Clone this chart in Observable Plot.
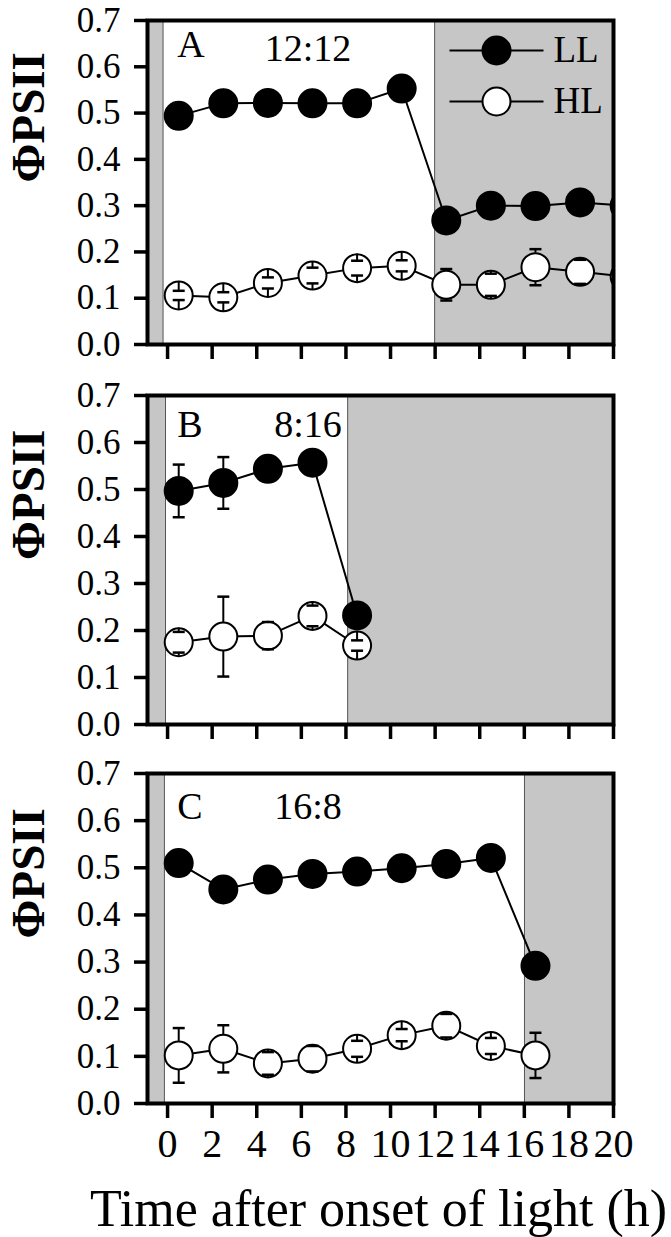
<!DOCTYPE html>
<html>
<head>
<meta charset="utf-8">
<script src="https://cdn.jsdelivr.net/npm/d3@7"></script>
<script src="https://cdn.jsdelivr.net/npm/@observablehq/plot@0.6"></script>
<style>
  html, body { margin: 0; padding: 0; background: white; }
  #chart svg { display: block; }
</style>
</head>
<body>
<div id="chart"></div>
<script>
// ---------- data ----------
const xTicks = [0, 2, 4, 6, 8, 10, 12, 14, 16, 18, 20];
const yTicks = [0, 0.1, 0.2, 0.3, 0.4, 0.5, 0.6, 0.7];
const xDomain = [-0.9, 20];
const yDomain = [0, 0.7];
const seriesNames = ["LL", "HL"];
const panelLetters = ["A", "B", "C"];
const photoperiods = ["12:12", "8:16", "16:8"];
const lightOnEdge = [-0.18, -0.07, -0.12];   // end of the dark strip before onset of light
const lightOffTime = [12, 8.1, 16.03];        // start of dark period

// Panel A (12:12)
const timeA = [0.5, 2.5, 4.5, 6.5, 8.5, 10.5, 12.5, 14.5, 16.5, 18.5, 20.5];
const llA = [0.494, 0.521, 0.522, 0.521, 0.521, 0.553, 0.268, 0.300, 0.299, 0.307, 0.300];
const llAErr = [0.008, 0.008, 0.008, 0.008, 0.008, 0.008, 0.008, 0.008, 0.008, 0.008, 0.008];
const hlA = [0.106, 0.102, 0.133, 0.149, 0.165, 0.170, 0.129, 0.129, 0.167, 0.157, 0.147];
const hlAErr = [0.010, 0.011, 0.012, 0.017, 0.016, 0.012, 0.034, 0.024, 0.039, 0.026, 0.020];

// Panel B (8:16)
const timeB = [0.5, 2.5, 4.5, 6.5, 8.5];
const llB = [0.497, 0.514, 0.544, 0.557, 0.232];
const llBErr = [0.056, 0.055, 0.008, 0.008, 0.008];
const hlB = [0.175, 0.187, 0.189, 0.231, 0.168];
const hlBErr = [0.022, 0.085, 0.029, 0.022, 0.011];

// Panel C (16:8)
const timeC = [0.5, 2.5, 4.5, 6.5, 8.5, 10.5, 12.5, 14.5, 16.5];
const llC = [0.510, 0.454, 0.475, 0.487, 0.492, 0.499, 0.508, 0.521, 0.292];
const llCErr = [0.008, 0.008, 0.008, 0.008, 0.008, 0.008, 0.008, 0.012, 0.008];
const hlC = [0.102, 0.116, 0.085, 0.095, 0.116, 0.145, 0.165, 0.122, 0.102];
const hlCErr = [0.058, 0.050, 0.024, 0.027, 0.017, 0.013, 0.025, 0.017, 0.048];

const yLabel = "ΦPSII";
const xLabel = "Time after onset of light (h)";

// ---------- style ----------
const FONT = "'Liberation Serif', 'Times New Roman', Times, serif";
const R = 14;          // marker radius (px)
const GRAY = "#c6c6c6";

const capSymbol = { draw(ctx) { ctx.moveTo(-6, 0); ctx.lineTo(6, 0); } };
const legendLineSymbol = { draw(ctx) { ctx.moveTo(-47, 0); ctx.lineTo(47, 0); } };

function rows(times, vals, errs, s) {
  return times.map((t, i) => ({ t, v: vals[i], e: errs[i], s }));
}

function seriesMarks(data, fill, rU) {
  const top = data.map(d => ({ t: d.t, a: d.v + rU, b: d.v + d.e }));
  const bot = data.map(d => ({ t: d.t, a: d.v - rU, b: d.v - d.e }));
  return [
    Plot.line(data, { x: "t", y: "v", stroke: "black", strokeWidth: 2, clip: true }),
    Plot.dot(data, { x: "t", y: "v", r: R, fill, stroke: "black", strokeWidth: 2, clip: true }),
    Plot.ruleX(top, { x: "t", y1: "a", y2: "b", stroke: "black", strokeWidth: 2, clip: true }),
    Plot.ruleX(bot, { x: "t", y1: "a", y2: "b", stroke: "black", strokeWidth: 2, clip: true }),
    Plot.dot(top, { x: "t", y: "b", symbol: capSymbol, fill: "none", stroke: "black", strokeWidth: 2.5, clip: true }),
    Plot.dot(bot, { x: "t", y: "b", symbol: capSymbol, fill: "none", stroke: "black", strokeWidth: 2.5, clip: true })
  ];
}

function panel(i, cfg) {
  const marginTop = cfg.marginTop;
  const plotH = cfg.height - marginTop - cfg.marginBottom;
  const rU = R / (plotH / (yDomain[1] - yDomain[0]));
  const shade = [
    { x1: xDomain[0], x2: lightOnEdge[i], y1: yDomain[0], y2: yDomain[1] },
    { x1: lightOffTime[i], x2: xDomain[1], y1: yDomain[0], y2: yDomain[1] }
  ];
  const marks = [
    Plot.rect(shade, { x1: "x1", x2: "x2", y1: "y1", y2: "y2", fill: GRAY, stroke: "#555", strokeWidth: 1 }),
    ...seriesMarks(rows(cfg.times, cfg.ll, cfg.llErr, "LL"), "black", rU),
    ...seriesMarks(rows(cfg.times, cfg.hl, cfg.hlErr, "HL"), "white", rU),
    Plot.frame({ stroke: "black", strokeWidth: 4 }),
    Plot.axisY({ ticks: yTicks, tickFormat: d3.format(".1f"), tickSize: 13, tickPadding: 14,
                 fontSize: 35, strokeWidth: 3.5, label: null }),
    cfg.showXLabels
      ? Plot.axisX({ ticks: xTicks, tickFormat: d3.format("d"), tickSize: 15, tickPadding: 10,
                     fontSize: 40, strokeWidth: 3.5, label: null })
      : Plot.axisX({ ticks: xTicks, tickFormat: () => "", tickSize: 15, strokeWidth: 3.5, label: null }),
    Plot.text([yLabel], { text: d => d, frameAnchor: "left", dx: -104, rotate: -90,
                          fontSize: 47, fontWeight: "bold", lineAnchor: "bottom" }),
    Plot.text([panelLetters[i]], { text: d => d, x: () => 0.43, frameAnchor: "top", dy: cfg.letterDy,
                                   textAnchor: "start", lineAnchor: "middle", fontSize: 38 }),
    Plot.text([photoperiods[i]], { text: d => d, x: () => 6.3, frameAnchor: "top", dy: cfg.periodDy,
                                   textAnchor: "middle", lineAnchor: "middle", fontSize: 38 })
  ];
  if (cfg.legend) {
    seriesNames.forEach((name, k) => {
      const dy = cfg.legendDy + k * 51;
      marks.push(
        Plot.dot([name], { frameAnchor: "top-right", dx: -117, dy, symbol: legendLineSymbol,
                           fill: "none", stroke: "black", strokeWidth: 2 }),
        Plot.dot([name], { frameAnchor: "top-right", dx: -117, dy, r: R,
                           fill: name === "LL" ? "black" : "white", stroke: "black", strokeWidth: 2 }),
        Plot.text([name], { text: d => d, frameAnchor: "top-right", dx: -60, dy,
                            textAnchor: "start", lineAnchor: "middle", fontSize: 37 })
      );
    });
  }
  if (cfg.showXLabels) {
    marks.push(Plot.text([xLabel], { text: d => d, frameAnchor: "bottom", dy: 122, dx: -2,
                                     lineAnchor: "bottom", fontSize: 52 }));
  }
  return Plot.plot({
    width: 671,
    height: cfg.height,
    marginTop,
    marginBottom: cfg.marginBottom,
    marginLeft: 147,
    marginRight: 58,
    x: { domain: xDomain },
    y: { domain: yDomain },
    style: { fontFamily: FONT, background: "white", overflow: "visible", color: "black" },
    marks
  });
}

const chart = document.getElementById("chart");
chart.appendChild(panel(0, { times: timeA, ll: llA, llErr: llAErr, hl: hlA, hlErr: hlAErr,
  height: 380, marginTop: 20, marginBottom: 36, showXLabels: false, legend: true, legendDy: 30,
  letterDy: 24, periodDy: 28 }));
chart.appendChild(panel(1, { times: timeB, ll: llB, llErr: llBErr, hl: hlB, hlErr: hlBErr,
  height: 378, marginTop: 15, marginBottom: 34, showXLabels: false, legend: false,
  letterDy: 29, periodDy: 29 }));
chart.appendChild(panel(2, { times: timeC, ll: llC, llErr: llCErr, hl: hlC, hlErr: hlCErr,
  height: 479, marginTop: 15, marginBottom: 134, showXLabels: true, legend: false,
  letterDy: 33, periodDy: 33 }));
</script>
</body>
</html>
